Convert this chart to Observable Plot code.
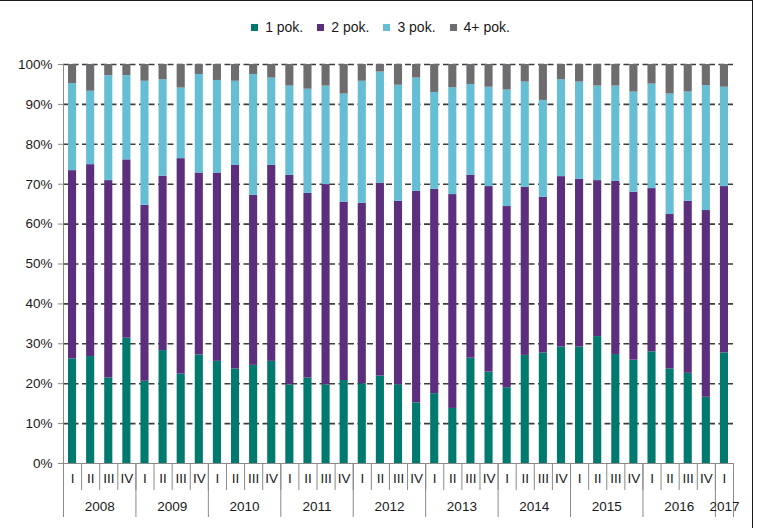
<!DOCTYPE html>
<html>
<head>
<meta charset="utf-8">
<script src="https://cdn.jsdelivr.net/npm/d3@7"></script>
<script src="https://cdn.jsdelivr.net/npm/@observablehq/plot@0.6"></script>
<style>
  body { margin: 0; background: #fff; font-family: "Liberation Sans", Arial, sans-serif; }
  #wrap { position: relative; width: 757px; height: 528px; overflow: hidden; background: #fff; }
  #frame { position: absolute; left: -3px; top: 0; width: 756px; height: 600px; border: 1.5px solid #1a1a1a; box-sizing: border-box; pointer-events: none; }
  #legend { height: 50px; display: flex; justify-content: center; align-items: center; padding-left: 18px; padding-top: 4px; box-sizing: border-box; }
  #chart svg { display: block; opacity: 0.995; }
  #chart svg text { font-size: 13.5px !important; font-family: "Liberation Sans", Arial, sans-serif; }
</style>
</head>
<body>
<div id="wrap">
  <div id="legend"></div>
  <div id="chart"></div>
  <div id="frame"></div>
</div>
<script>
// ---- data ----
const years = ["2008","2009","2010","2011","2012","2013","2014","2015","2016","2017"];
const quartersPerYear = [4,4,4,4,4,4,4,4,4,1];
const quarterNames = ["I","II","III","IV"];
const series = ["1 pok.","2 pok.","3 pok.","4+ pok."];
const colors = ["#00796f","#5c2f7e","#66bed5","#6d6d70"];

const pok1 = [26.2,26.8,21.4,31.4, 20.6,28.3,22.4,27.2, 25.6,23.7,24.6,25.6, 19.7,21.4,19.7,20.8, 20.0,21.9,19.7,15.2, 17.5,13.8,26.4,22.9, 19.0,27.1,27.7,29.2, 29.2,31.8,27.3,25.9, 28.0,23.7,22.6,16.6, 27.7];
const pok2 = [47.2,48.1,49.5,44.7, 44.1,43.7,54.0,45.6, 47.2,51.0,42.6,49.1, 52.5,46.3,50.2,44.7, 45.2,48.3,46.0,53.0, 51.2,53.6,45.8,46.5, 45.4,42.1,39.0,42.7, 42.0,39.1,43.4,42.1, 40.9,38.7,43.1,46.8, 41.7];
const pok3 = [21.8,18.4,26.3,21.1, 31.1,24.2,17.7,24.7, 23.2,21.1,30.3,21.9, 22.4,26.1,24.7,27.1, 30.6,27.9,29.1,28.4, 24.3,26.8,22.8,24.9, 29.2,26.4,24.3,24.3, 24.4,23.7,23.9,25.1, 26.2,30.2,27.4,31.3, 24.9];
const pok4 = [4.8,6.7,2.8,2.8, 4.2,3.8,5.9,2.5, 4.0,4.2,2.5,3.4, 5.4,6.2,5.4,7.4, 4.2,1.9,5.2,3.4, 7.0,5.8,5.0,5.7, 6.4,4.4,9.0,3.8, 4.4,5.4,5.4,6.9, 4.9,7.4,6.9,5.3, 5.7];
const yTicks = [0,10,20,30,40,50,60,70,80,90,100];

// ---- derived tables ----
const quarterLabels = [];
const yearStarts = [];
let k = 0;
years.forEach((y, yi) => {
  yearStarts.push(k);
  for (let q = 0; q < quartersPerYear[yi]; q++) { quarterLabels.push(quarterNames[q]); k++; }
});
const n = quarterLabels.length;
const valuesBySeries = [pok1, pok2, pok3, pok4];
const rows = [];
for (let i = 0; i < n; i++) {
  series.forEach((s, si) => rows.push({i, i2: i + 1, series: s, value: valuesBySeries[si][i]}));
}
const boundaries = d3.range(0, n + 1);
const centers = d3.range(0, n).map(i => i + 0.5);
const yearBounds = [...yearStarts, n];
const yearCenters = yearStarts.map((s, yi) => s + quartersPerYear[yi] / 2);
const yearByCenter = new Map(yearCenters.map((c, yi) => [c, years[yi]]));

const axisColor = "#8a8a8a";
const font = "'Liberation Sans', Arial, sans-serif";

const chart = Plot.plot({
  width: 757,
  height: 478,
  marginLeft: 63,
  marginRight: 24,
  marginTop: 14,
  marginBottom: 65,
  style: {fontFamily: font, fontSize: "13.5px", color: "#1a1a1a", background: "#fff", overflow: "visible"},
  x: {type: "linear", domain: [0, n], axis: null},
  y: {domain: [0, 100], axis: null},
  color: {domain: series, range: colors},
  marks: [
    Plot.gridY(yTicks.filter(d => d > 0), {stroke: "#3d3d3d", strokeOpacity: 1, strokeWidth: 1.6, strokeDasharray: "6,3.5"}),
    Plot.rectY(rows, Plot.stackY({x1: "i", x2: "i2", y: "value", fill: "series", insetLeft: 5, insetRight: 5})),
    Plot.ruleX([0], {stroke: axisColor}),
    Plot.ruleY([0], {stroke: axisColor}),
    Plot.axisY(yTicks, {tickSize: 5, tickPadding: 6, stroke: axisColor, tickFormat: d => d + "%", fill: "#1a1a1a", label: null}),
    Plot.axisX(boundaries, {tickSize: 27, stroke: axisColor, tickFormat: () => "", label: null}),
    Plot.axisX(yearBounds, {tickSize: 54, stroke: axisColor, tickFormat: () => "", label: null}),
    Plot.axisX(centers, {tickSize: 0, tickPadding: 10, tickFormat: d => quarterLabels[Math.floor(d)], fill: "#1a1a1a", label: null}),
    Plot.axisX(yearCenters, {tickSize: 0, tickPadding: 38, tickFormat: d => yearByCenter.get(d), fill: "#1a1a1a", label: null})
  ]
});
document.getElementById("chart").appendChild(chart);

const legend = Plot.legend({
  color: {domain: series, range: colors},
  legend: "swatches",
  swatchSize: 7,
  style: {fontFamily: font, fontSize: "14px", color: "#1a1a1a", marginBottom: "0px"}
});
document.getElementById("legend").appendChild(legend);
</script>
</body>
</html>
